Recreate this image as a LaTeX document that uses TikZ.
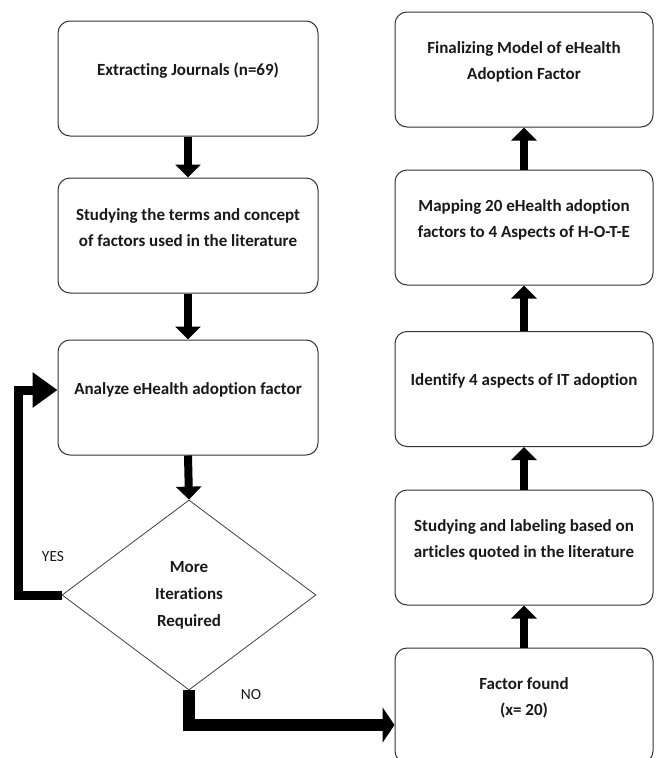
\documentclass[tikz,border=0pt]{standalone}
\usepackage{fontspec}
\setmainfont{Carlito}[Ligatures=NoCommon]
\usetikzlibrary{arrows.meta,shapes.geometric}
\begin{document}
\begin{tikzpicture}[x=1pt,y=-1pt,
  box/.style={draw=black!80,line width=1pt,rounded corners=12pt,fill=white,minimum width=260pt,minimum height=115pt,inner sep=0pt},
  rbox/.style={box,minimum width=258pt},
  txt/.style={font=\fontsize{17}{26}\selectfont\bfseries,align=center,text=black!90},
  lab/.style={label={[txt,anchor=center,yshift=-50pt]north:#1}},
  flow/.style={line width=8pt,-{Triangle[length=13pt,width=25pt]}},
  loopback/.style={line width=9pt,-{Triangle[length=25pt,width=34pt]}},
  noarrow/.style={line width=12pt,-{Triangle[length=12pt,width=35pt]}},
  ans/.style={font=\fontsize{15.5}{17}\selectfont,text=black!90}
]
\useasboundingbox (0,0) rectangle (656,758);
\clip (0,0) rectangle (656,758);

% left column
\node[box,lab={{Extracting Journals (n=69)}}] (b1) at (188,78.5) {};
\node[box,lab={{Studying the terms and concept\\of factors used in the literature}}] (b2) at (188,235.5) {};
\node[box,lab={{Analyze eHealth adoption factor}}] (b3) at (188,397.5) {};
\node[diamond,draw=black!75,line width=0.8pt,minimum width=254pt,minimum height=190pt,inner sep=0pt,txt,font=\fontsize{17}{27}\selectfont\bfseries] (d) at (189,595) {More\\Iterations\\Required};

% right column
\node[rbox,lab={{Finalizing Model of eHealth\\Adoption Factor}}] (r1) at (524,69.5) {};
\node[rbox,lab={{Mapping 20 eHealth adoption\\factors to 4 Aspects of H-O-T-E}}] (r2) at (524,227.5) {};
\node[rbox,lab={{Identify 4 aspects of IT adoption}}] (r3) at (524,389) {};
\node[rbox,lab={{Studying and labeling based on\\articles quoted in the literature}}] (r4) at (524,547.5) {};
\node[rbox,lab={{Factor found\\(x= 20)}}] (r5) at (524,705.5) {};

% arrows
\draw[flow] (b1.south) -- (b2.north);
\draw[flow] (b2.south) -- (b3.north);
\draw[flow] (b3.south) -- (d.north);
\draw[flow] (r5.north) -- (r4.south);
\draw[flow] (r4.north) -- (r3.south);
\draw[flow] (r3.north) -- (r2.south);
\draw[flow] (r2.north) -- (r1.south);

\draw[loopback] (d.west) -- ++(-43,0) |- ([yshift=7.5pt]b3.west);
\draw[noarrow] (d.south) |- ([yshift=-19.5pt]r5.west);

\node[ans] (yes) at (53,557) {YES};
\node[ans] (no) at (251,695) {NO};
\end{tikzpicture}
\end{document}
